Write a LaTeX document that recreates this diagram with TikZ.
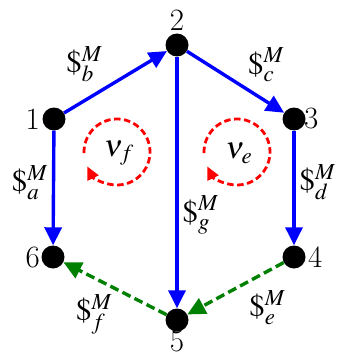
\documentclass[tikz,border=0pt]{standalone}
\usepackage{mathptmx}
\usetikzlibrary{arrows.meta, positioning}

\begin{document}
\begin{tikzpicture}[
    x=1pt, y=-1pt,
    font=\fontsize{31}{34}\selectfont,
    vertex/.style={circle, fill=black, inner sep=0pt, minimum size=23pt},
    flow/.style={blue, line width=3.4pt, -{Triangle[length=18pt, width=17pt]}},
    back/.style={green!50!black, line width=3.4pt, dash pattern=on 9pt off 4.5pt, -{Triangle[length=18pt, width=17pt]}},
    loopline/.style={red, line width=2.8pt, dash pattern=on 6.5pt off 3.5pt, -{Triangle[length=13pt, width=12pt]}},
    lbl/.style={inner sep=1pt, text=black},
]
\useasboundingbox (0,0) rectangle (337,361);

% Vertices
\node[vertex, label={[label distance=-1pt]left:1}] (v1) at (54,119) {};
\node[vertex, label={[label distance=-1pt]above:2}] (v2) at (177,45) {};
\node[vertex, label={[label distance=-5pt]right:3}] (v3) at (294,119) {};
\node[vertex, label={[label distance=-1pt]right:4}] (v4) at (294,257) {};
\node[vertex, label={[label distance=-4pt]below:5}] (v5) at (177,320) {};
\node[vertex, label={[label distance=-2pt]left:6}] (v6) at (53,257) {};

% Solid edges
\draw[flow] (v1) -- (v2) node[lbl, pos=0.42, above left=3pt] {$\$^M_b$};
\draw[flow] (v2) -- (v3) node[lbl, pos=0.58, above right=3pt] {$\$^M_c$};
\draw[flow] (v1) -- (v6) node[lbl, pos=0.45, left=3pt] {$\$^M_a$};
\draw[flow] (v3) -- (v4) node[lbl, pos=0.45, right=3pt] {$\$^M_d$};
\draw[flow] (v2) -- (v5) node[lbl, pos=0.63, right=3pt] {$\$^M_g$};

% Dashed edges
\draw[back] (v4) -- (v5) node[lbl, pos=0.42, below right=5pt] {$\$^M_e$};
\draw[back] (v5) -- (v6) node[lbl, pos=0.48, below left=3pt] {$\$^M_f$};

% Loops
\node (nuf) at (119,153) {$\nu_f$};
\node (nue) at (239,153) {$\nu_e$};
\draw[loopline] (117,152) ++(182:33pt) arc[start angle=182, end angle=-154, radius=33pt];
\draw[loopline] (237,152) ++(182:33pt) arc[start angle=182, end angle=-154, radius=33pt];

\end{tikzpicture}
\end{document}
